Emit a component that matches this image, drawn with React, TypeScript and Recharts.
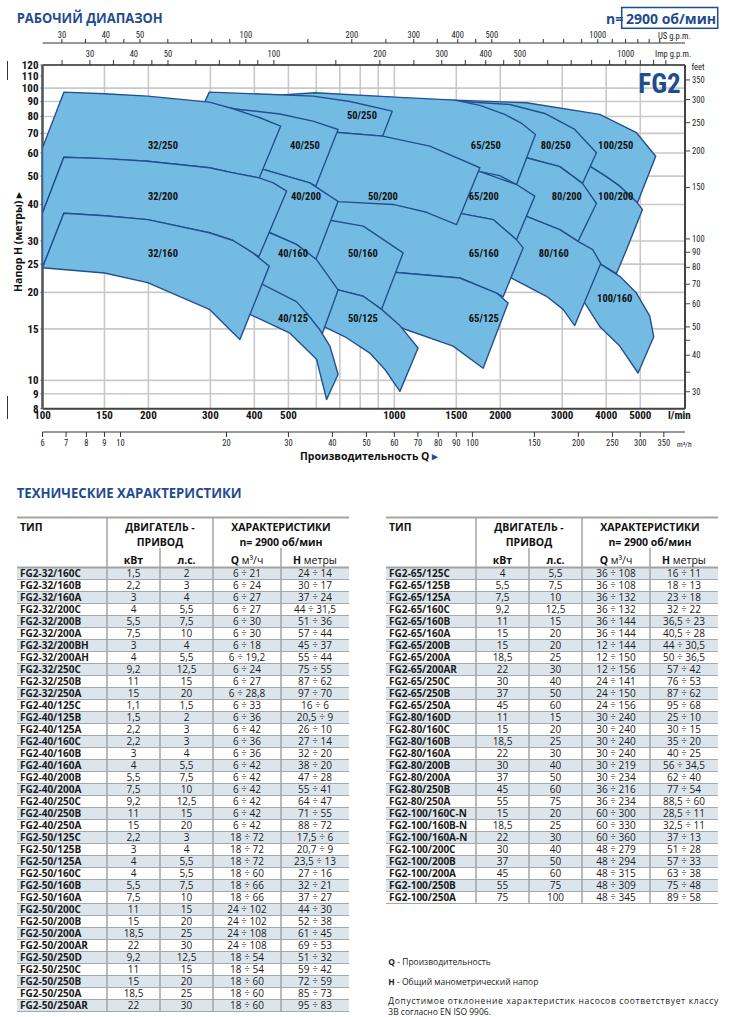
import React from 'react';
import { ScatterChart, Scatter, XAxis, YAxis, CartesianGrid } from 'recharts';

// axes: flow in l/min, head in metres (other units are conversions of these)
const FLOW_DOMAIN: [number, number] = [100, 6700];
const HEAD_DOMAIN: [number, number] = [8, 120];
const axisSpan = [
  { q: FLOW_DOMAIN[0], h: HEAD_DOMAIN[0] },
  { q: FLOW_DOMAIN[1], h: HEAD_DOMAIN[1] },
];

const flowTicks = [100, 150, 200, 300, 400, 500, 600, 700, 800, 900, 1000, 1500, 2000, 3000, 4000, 5000];
const flowLabelled = [100, 150, 200, 300, 400, 500, 1000, 1500, 2000, 3000, 4000, 5000];
const gridFlow = [150, 200, 300, 400, 500, 600, 700, 800, 900, 1000, 1500, 2000, 3000, 4000, 5000];
const headTicks = [8, 9, 10, 15, 20, 25, 30, 40, 50, 60, 70, 80, 90, 100, 110, 120];
const gridHead = [9, 10, 15, 20, 25, 30, 40, 50, 60, 70, 80, 90, 100];
const m3hTicks = [6, 7, 8, 9, 10, 20, 30, 40, 50, 60, 70, 80, 90, 100, 150, 200, 250, 300, 350];
const usTicks = [30, 35, 40, 45, 50, 60, 70, 80, 90, 100, 150, 200, 250, 300, 350, 400, 450, 500, 600, 700, 800, 900, 1000, 1100, 1200, 1300, 1400, 1500];
const impTicks = [25, 30, 35, 40, 45, 50, 60, 70, 80, 90, 100, 150, 200, 250, 300, 350, 400, 450, 500, 600, 700, 800, 900, 1000, 1100, 1200, 1300];
const gpmLabelled = [30, 40, 50, 100, 200, 300, 400, 500, 1000];
const feetTicks = [30, 35, 40, 45, 50, 60, 70, 80, 90, 100, 150, 200, 250, 300, 350];
const feetHidden = [35, 45];

// working ranges [Q l/min, H m], largest family first (smaller ones are drawn over them)
const fg100_250 = [[798, 88.9], [1485, 91.0], [2375, 89.1], [3835, 81.3], [4876, 70.4], [5532, 58.5], [4908, 40.5], [4372, 46.2], [3962, 50.2], [3592, 54.1], [2953, 57.4], [1750, 60.2], [798, 61.7]];
const fg100_200 = [[798, 61.7], [1750, 60.2], [2953, 57.4], [3592, 54.1], [3962, 50.2], [4372, 46.2], [4908, 40.5], [5071, 38.4], [4568, 28.0], [4279, 23.2], [3835, 25.1], [3365, 26.9], [2765, 29.2], [1750, 32.8], [798, 36.9]];
const fg100_160 = [[798, 36.9], [1750, 32.8], [2765, 29.2], [3365, 26.9], [3835, 25.1], [4372, 22.7], [4876, 19.9], [5320, 16.6], [5460, 14.1], [4927, 10.6], [4372, 13.1], [3835, 15.3], [3476, 18.4], [2953, 20.4], [1750, 23.9], [798, 28.0]];
const fg80_250 = [[669, 87.3], [1485, 90.4], [2128, 87.9], [2677, 81.9], [3256, 72.2], [3753, 60.1], [3425, 47.2], [2953, 53.9], [2375, 57.8], [1639, 60.7], [1037, 61.7], [669, 61.7]];
const fg80_200 = [[669, 61.7], [1037, 61.7], [1639, 60.7], [2375, 57.8], [2953, 53.9], [3425, 47.2], [3753, 40.3], [3327, 29.9], [2953, 32.8], [2375, 36.4], [1639, 37.8], [1037, 38.4], [669, 39.0]];
const fg80_160 = [[669, 39.0], [1037, 38.4], [1639, 37.8], [2375, 36.4], [2953, 32.8], [3327, 29.9], [3663, 28.0], [3860, 25.1], [3256, 15.4], [3017, 17.5], [2706, 19.4], [2153, 22.4], [1639, 24.9], [1037, 26.9], [669, 28.0]];
const fg65_250 = [[415, 93.7], [595, 96.4], [1037, 93.0], [1485, 91.0], [1750, 87.3], [2060, 81.3], [2303, 75.7], [2518, 69.4], [2225, 46.8], [1993, 50.2], [1750, 51.8], [1037, 52.7], [539, 54.8], [415, 54.8]];
const fg65_200 = [[415, 54.8], [539, 54.8], [1037, 52.7], [1750, 51.8], [2225, 46.8], [2507, 42.7], [2225, 30.3], [1909, 35.5], [1552, 37.2], [1347, 41.6], [1037, 45.0], [539, 50.6], [415, 50.6]];
const fg65_160 = [[415, 50.6], [539, 50.6], [1037, 45.0], [1347, 41.6], [1552, 37.2], [1909, 35.5], [2225, 30.3], [2323, 28.4], [2037, 19.3], [1952, 19.9], [1535, 22.4], [1015, 23.4], [748, 23.9], [539, 24.3], [415, 24.3]];
const fg65_125 = [[415, 24.3], [539, 24.3], [748, 23.9], [1015, 23.4], [1535, 22.4], [1952, 19.9], [2105, 18.4], [1788, 11.0], [1469, 13.1], [1083, 14.9], [910, 16.4], [700, 18.9], [539, 19.6], [415, 20.4]];
const fg50_250 = [[298, 96.9], [415, 95.5], [588, 93.9], [748, 90.0], [986, 83.4], [926, 68.5], [691, 70.5], [539, 72.2], [289, 75.1], [289, 89.6]];
const fg50_200 = [[539, 72.2], [691, 70.5], [926, 68.5], [1261, 63.3], [1750, 53.4], [1502, 34.1], [1234, 37.6], [992, 40.0], [691, 40.9], [539, 42.3]];
const fg50_160 = [[539, 36.9], [656, 35.3], [816, 33.7], [1059, 27.3], [920, 17.5], [816, 19.4], [692, 20.4], [539, 22.1]];
const fg50_125 = [[539, 22.1], [692, 20.4], [816, 19.4], [920, 17.5], [1037, 15.4], [1168, 12.9], [1037, 9.17], [940, 10.9], [852, 12.4], [724, 14.1], [635, 15.2], [539, 16.8]];
const fg40_250 = [[280, 88.6], [319, 86.6], [364, 84.5], [473, 81.6], [587, 77.1], [692, 72.2], [598, 46.2], [575, 47.4], [424, 52.7], [341, 56.1], [280, 57.9]];
const fg40_200 = [[280, 57.9], [341, 56.1], [424, 52.7], [575, 47.4], [692, 41.0], [598, 25.9], [527, 29.2], [443, 32.0], [364, 34.1], [280, 36.9]];
const fg40_160 = [[280, 36.9], [364, 34.1], [443, 32.0], [527, 29.2], [601, 25.9], [692, 20.4], [618, 14.0], [539, 16.1], [422, 20.4], [364, 21.8], [280, 23.6]];
const fg40_125 = [[280, 23.9], [364, 22.5], [422, 21.3], [527, 18.6], [563, 17.0], [614, 14.9], [656, 13.1], [692, 10.5], [642, 8.6], [601, 11.8], [505, 14.5], [390, 16.8], [341, 18.2], [280, 19.2]];
const fg32_250 = [[115, 96.9], [150, 95.7], [199, 93.9], [298, 89.6], [348, 85.0], [415, 79.2], [475, 74.1], [413, 49.3], [348, 51.3], [298, 53.4], [199, 56.2], [150, 57.4], [115, 58.0], [100, 37.4], [100, 62.5]];
const fg32_200 = [[115, 58.0], [150, 57.4], [199, 56.2], [298, 53.4], [348, 51.3], [413, 49.3], [453, 47.4], [494, 44.4], [412, 26.5], [348, 30.1], [298, 32.0], [199, 35.5], [150, 36.6], [115, 37.3], [100, 24.3], [100, 37.4]];
const fg32_160 = [[115, 37.3], [150, 36.6], [199, 35.5], [298, 32.0], [348, 30.1], [396, 27.3], [441, 24.6], [364, 13.8], [341, 14.9], [298, 17.5], [199, 21.6], [150, 23.3], [100, 24.3]];

const ranges = [
  fg100_250, fg100_200, fg100_160,
  fg80_250, fg80_200, fg80_160,
  fg65_250, fg65_200, fg65_160, fg65_125,
  fg50_250, fg50_200, fg50_160, fg50_125,
  fg40_250, fg40_200, fg40_160, fg40_125,
  fg32_250, fg32_200, fg32_160,
];

const regionLabels: [string, number, number][] = [
  ['32/250', 220, 63.7], ['40/250', 557, 63.7], ['50/250', 809, 80.6], ['65/250', 1820, 63.7], ['80/250', 2875, 63.7], ['100/250', 4259, 63.7],
  ['32/200', 220, 42.6], ['40/200', 561, 42.6], ['50/200', 928, 42.6], ['65/200', 1796, 42.6], ['80/200', 3092, 42.6], ['100/200', 4259, 42.6],
  ['32/160', 220, 27.2], ['40/160', 515, 27.2], ['50/160', 814, 27.2], ['65/160', 1796, 27.2], ['80/160', 2839, 27.2], ['100/160', 4231, 19.05],
  ['40/125', 515, 16.3], ['50/125', 814, 16.3], ['65/125', 1796, 16.3],
];

// technical table rows: type, kW, HP, Q m3/h, H m
const leftRows = [
  ['FG2-32/160C', '1,5', '2', '6 ÷ 21', '24 ÷ 14'],
  ['FG2-32/160B', '2,2', '3', '6 ÷ 24', '30 ÷ 17'],
  ['FG2-32/160A', '3', '4', '6 ÷ 27', '37 ÷ 24'],
  ['FG2-32/200C', '4', '5,5', '6 ÷ 27', '44 ÷ 31,5'],
  ['FG2-32/200B', '5,5', '7,5', '6 ÷ 30', '51 ÷ 36'],
  ['FG2-32/200A', '7,5', '10', '6 ÷ 30', '57 ÷ 44'],
  ['FG2-32/200BH', '3', '4', '6 ÷ 18', '45 ÷ 37'],
  ['FG2-32/200AH', '4', '5,5', '6 ÷ 19,2', '55 ÷ 44'],
  ['FG2-32/250C', '9,2', '12,5', '6 ÷ 24', '75 ÷ 55'],
  ['FG2-32/250B', '11', '15', '6 ÷ 27', '87 ÷ 62'],
  ['FG2-32/250A', '15', '20', '6 ÷ 28,8', '97 ÷ 70'],
  ['FG2-40/125C', '1,1', '1,5', '6 ÷ 33', '16 ÷ 6'],
  ['FG2-40/125B', '1,5', '2', '6 ÷ 36', '20,5 ÷ 9'],
  ['FG2-40/125A', '2,2', '3', '6 ÷ 42', '26 ÷ 10'],
  ['FG2-40/160C', '2,2', '3', '6 ÷ 36', '27 ÷ 14'],
  ['FG2-40/160B', '3', '4', '6 ÷ 36', '32 ÷ 20'],
  ['FG2-40/160A', '4', '5,5', '6 ÷ 42', '38 ÷ 20'],
  ['FG2-40/200B', '5,5', '7,5', '6 ÷ 42', '47 ÷ 28'],
  ['FG2-40/200A', '7,5', '10', '6 ÷ 42', '55 ÷ 41'],
  ['FG2-40/250C', '9,2', '12,5', '6 ÷ 42', '64 ÷ 47'],
  ['FG2-40/250B', '11', '15', '6 ÷ 42', '71 ÷ 55'],
  ['FG2-40/250A', '15', '20', '6 ÷ 42', '88 ÷ 72'],
  ['FG2-50/125C', '2,2', '3', '18 ÷ 72', '17,5 ÷ 6'],
  ['FG2-50/125B', '3', '4', '18 ÷ 72', '20,7 ÷ 9'],
  ['FG2-50/125A', '4', '5,5', '18 ÷ 72', '23,5 ÷ 13'],
  ['FG2-50/160C', '4', '5,5', '18 ÷ 60', '27 ÷ 16'],
  ['FG2-50/160B', '5,5', '7,5', '18 ÷ 66', '32 ÷ 21'],
  ['FG2-50/160A', '7,5', '10', '18 ÷ 66', '37 ÷ 27'],
  ['FG2-50/200C', '11', '15', '24 ÷ 102', '44 ÷ 30'],
  ['FG2-50/200B', '15', '20', '24 ÷ 102', '52 ÷ 38'],
  ['FG2-50/200A', '18,5', '25', '24 ÷ 108', '61 ÷ 45'],
  ['FG2-50/200AR', '22', '30', '24 ÷ 108', '69 ÷ 53'],
  ['FG2-50/250D', '9,2', '12,5', '18 ÷ 54', '51 ÷ 32'],
  ['FG2-50/250C', '11', '15', '18 ÷ 54', '59 ÷ 42'],
  ['FG2-50/250B', '15', '20', '18 ÷ 60', '72 ÷ 59'],
  ['FG2-50/250A', '18,5', '25', '18 ÷ 60', '85 ÷ 73'],
  ['FG2-50/250AR', '22', '30', '18 ÷ 60', '95 ÷ 83'],
];

const rightRows = [
  ['FG2-65/125C', '4', '5,5', '36 ÷ 108', '16 ÷ 11'],
  ['FG2-65/125B', '5,5', '7,5', '36 ÷ 108', '18 ÷ 13'],
  ['FG2-65/125A', '7,5', '10', '36 ÷ 132', '23 ÷ 18'],
  ['FG2-65/160C', '9,2', '12,5', '36 ÷ 132', '32 ÷ 22'],
  ['FG2-65/160B', '11', '15', '36 ÷ 144', '36,5 ÷ 23'],
  ['FG2-65/160A', '15', '20', '36 ÷ 144', '40,5 ÷ 28'],
  ['FG2-65/200B', '15', '20', '12 ÷ 144', '44 ÷ 30,5'],
  ['FG2-65/200A', '18,5', '25', '12 ÷ 150', '50 ÷ 36,5'],
  ['FG2-65/200AR', '22', '30', '12 ÷ 156', '57 ÷ 42'],
  ['FG2-65/250C', '30', '40', '24 ÷ 141', '76 ÷ 53'],
  ['FG2-65/250B', '37', '50', '24 ÷ 150', '87 ÷ 62'],
  ['FG2-65/250A', '45', '60', '24 ÷ 156', '95 ÷ 68'],
  ['FG2-80/160D', '11', '15', '30 ÷ 240', '25 ÷ 10'],
  ['FG2-80/160C', '15', '20', '30 ÷ 240', '30 ÷ 15'],
  ['FG2-80/160B', '18,5', '25', '30 ÷ 240', '35 ÷ 20'],
  ['FG2-80/160A', '22', '30', '30 ÷ 240', '40 ÷ 25'],
  ['FG2-80/200B', '30', '40', '30 ÷ 219', '56 ÷ 34,5'],
  ['FG2-80/200A', '37', '50', '30 ÷ 234', '62 ÷ 40'],
  ['FG2-80/250B', '45', '60', '36 ÷ 216', '77 ÷ 54'],
  ['FG2-80/250A', '55', '75', '36 ÷ 234', '88,5 ÷ 60'],
  ['FG2-100/160C-N', '15', '20', '60 ÷ 300', '28,5 ÷ 11'],
  ['FG2-100/160B-N', '18,5', '25', '60 ÷ 330', '32,5 ÷ 11'],
  ['FG2-100/160A-N', '22', '30', '60 ÷ 360', '37 ÷ 13'],
  ['FG2-100/200C', '30', '40', '48 ÷ 279', '51 ÷ 28'],
  ['FG2-100/200B', '37', '50', '48 ÷ 294', '57 ÷ 33'],
  ['FG2-100/200A', '45', '60', '48 ÷ 315', '63 ÷ 38'],
  ['FG2-100/250B', '55', '75', '48 ÷ 309', '75 ÷ 48'],
  ['FG2-100/250A', '75', '100', '48 ÷ 345', '89 ÷ 58'],
];

const NARROW = "'Liberation Sans Narrow', 'Arial Narrow', 'Roboto Condensed', 'DejaVu Sans Condensed', sans-serif";
const SANS = "'Open Sans', 'Noto Sans', sans-serif";
const BLUE = '#1f4c8f';
const FILL = '#74bbe3';
const EDGE = '#23508f';

const toPoints = (arr: number[][]) => arr.map(([q, h]) => ({ q, h }));

const polygon = (props: any) => {
  const pts = props.points || [];
  if (!pts.length) return <g />;
  const d = pts.map((p: any, i: number) => `${i ? 'L' : 'M'}${p.x},${p.y}`).join('') + 'Z';
  return <path d={d} fill={FILL} stroke={EDGE} strokeWidth={1.4} strokeLinejoin="round" />;
};

const noDot = () => <g />;

const labelShape = (p: any) => (
  <text x={p.cx} y={p.cy} textAnchor="middle" dominantBaseline="central" fontFamily={NARROW} fontWeight={700} fontSize={10.5} fill="#111">
    {p.payload.name}
  </text>
);

const smallTick = { fontSize: 8.5, fill: '#222', fontFamily: NARROW };

function FlowChart() {
  return (
    <ScatterChart width={730} height={470} data={axisSpan} margin={{ top: 23, right: 5, bottom: 16, left: 12.5 }}>
      <XAxis xAxisId="lmin" dataKey="q" type="number" scale="log" domain={FLOW_DOMAIN} allowDataOverflow
        ticks={flowTicks} interval={0} tickFormatter={(v: number) => (flowLabelled.includes(v) ? String(v) : '')}
        tickLine={false} tickSize={0} tickMargin={2} height={23.3}
        axisLine={{ stroke: '#444', strokeWidth: 2 }} tick={{ fontSize: 11, fontWeight: 700, fill: '#111', fontFamily: NARROW }} />
      <XAxis xAxisId="m3h" dataKey="q" type="number" scale="log" domain={[FLOW_DOMAIN[0] * 0.06, FLOW_DOMAIN[1] * 0.06]} allowDataOverflow
        ticks={m3hTicks} interval={0} height={22} tickSize={5} tickMargin={3}
        axisLine={{ stroke: '#333' }} tickLine={{ stroke: '#333' }} tick={smallTick} />
      <XAxis xAxisId="imp" dataKey="q" orientation="top" type="number" scale="log" domain={[FLOW_DOMAIN[0] / 4.546, FLOW_DOMAIN[1] / 4.546]} allowDataOverflow
        ticks={impTicks} interval={0} tickFormatter={(v: number) => (gpmLabelled.includes(v) ? String(v) : '')}
        height={22} tickSize={5} tickMargin={3} axisLine={{ stroke: '#333', strokeWidth: 1.5 }} tickLine={{ stroke: '#333' }} tick={smallTick} />
      <XAxis xAxisId="us" dataKey="q" orientation="top" type="number" scale="log" domain={[FLOW_DOMAIN[0] / 3.785, FLOW_DOMAIN[1] / 3.785]} allowDataOverflow
        ticks={usTicks} interval={0} tickFormatter={(v: number) => (gpmLabelled.includes(v) ? String(v) : '')}
        height={20} tickSize={4} tickMargin={1} axisLine={{ stroke: '#333', strokeWidth: 1.2 }} tickLine={{ stroke: '#333' }} tick={smallTick} />
      <XAxis xAxisId="zgx" dataKey="q" hide height={0} type="number" scale="log" domain={FLOW_DOMAIN} allowDataOverflow ticks={gridFlow} interval={0} />
      <YAxis yAxisId="m" dataKey="h" type="number" scale="log" domain={HEAD_DOMAIN} allowDataOverflow
        ticks={headTicks} interval={0} width={30} tickSize={2} tickMargin={2}
        axisLine={{ stroke: '#555', strokeWidth: 2.5 }} tickLine={{ stroke: '#555' }}
        tick={{ fontSize: 11, fontWeight: 700, fill: '#111', fontFamily: NARROW }} />
      <YAxis yAxisId="ft" dataKey="h" orientation="right" type="number" scale="log" domain={[HEAD_DOMAIN[0] * 3.281, HEAD_DOMAIN[1] * 3.281]} allowDataOverflow
        ticks={feetTicks} interval={0} tickFormatter={(v: number) => (feetHidden.includes(v) ? '' : String(v))}
        width={40} tickSize={5} tickMargin={2} axisLine={{ stroke: '#444', strokeWidth: 2 }} tickLine={{ stroke: '#444' }} tick={smallTick} />
      <YAxis yAxisId="zgy" dataKey="h" hide width={0} type="number" scale="log" domain={HEAD_DOMAIN} allowDataOverflow ticks={gridHead} interval={0} />
      <CartesianGrid xAxisId="zgx" yAxisId="zgy" stroke="#c9c9c9" strokeWidth={1.6} />
      {ranges.map((r, i) => (
        <Scatter key={i} xAxisId="lmin" yAxisId="m" data={toPoints(r)} line={polygon} lineType="joint"
          shape={noDot} isAnimationActive={false} />
      ))}
      <Scatter xAxisId="lmin" yAxisId="m" data={regionLabels.map(([name, q, h]) => ({ name, q, h }))}
        shape={labelShape} isAnimationActive={false} />
    </ScatterChart>
  );
}

function SpecTable({ x, rows }: { x: number; rows: string[][] }) {
  const widths = [90, 53, 53, 68, 68];
  const xs = [x];
  widths.forEach((w) => xs.push(xs[xs.length - 1] + w));
  const top = 517.5;
  const headBottom = 567.5;
  const rowH = 12;
  const bottom = headBottom + rows.length * rowH;
  const hs = { fontFamily: SANS, fontWeight: 700, fontSize: 10.5, fill: '#111' } as const;
  const c = (i: number) => (xs[i] + xs[i + 1]) / 2;
  return (
    <g>
      {rows.map((_, i) =>
        i % 2 === 0 ? <rect key={'b' + i} x={xs[0]} y={headBottom + i * rowH} width={xs[5] - xs[0]} height={rowH} fill="#dde5ec" /> : null
      )}
      {rows.map((_, i) => (
        <line key={'l' + i} x1={xs[0]} x2={xs[5]} y1={headBottom + (i + 1) * rowH} y2={headBottom + (i + 1) * rowH} stroke="#a7a7a7" strokeWidth={1} />
      ))}
      <line x1={xs[0]} x2={xs[5]} y1={top} y2={top} stroke="#a3a3a3" strokeWidth={2} />
      <line x1={xs[0]} x2={xs[5]} y1={headBottom} y2={headBottom} stroke="#a3a3a3" strokeWidth={2} />
      <line x1={xs[1]} x2={xs[1]} y1={top} y2={bottom} stroke="#a3a3a3" strokeWidth={1.5} />
      <line x1={xs[3]} x2={xs[3]} y1={top} y2={bottom} stroke="#a3a3a3" strokeWidth={1.5} />
      <line x1={xs[2]} x2={xs[2]} y1={548} y2={bottom} stroke="#a3a3a3" strokeWidth={1.5} />
      <line x1={xs[4]} x2={xs[4]} y1={548} y2={bottom} stroke="#a3a3a3" strokeWidth={1.5} />
      <text x={xs[0] + 3} y={530.5} {...hs}>ТИП</text>
      <text x={xs[3] - (xs[3] - xs[1]) / 2} y={530.5} textAnchor="middle" {...hs}>ДВИГАТЕЛЬ -</text>
      <text x={xs[3] - (xs[3] - xs[1]) / 2} y={545.5} textAnchor="middle" {...hs}>ПРИВОД</text>
      <text x={(xs[3] + xs[5]) / 2} y={530.5} textAnchor="middle" {...hs}>ХАРАКТЕРИСТИКИ</text>
      <text x={(xs[3] + xs[5]) / 2} y={545.5} textAnchor="middle" {...hs}>n= 2900 об/мин</text>
      <text x={c(1)} y={563.5} textAnchor="middle" {...hs}>кВт</text>
      <text x={c(2)} y={563.5} textAnchor="middle" {...hs}>л.с.</text>
      <text x={c(3)} y={563.5} textAnchor="middle" {...hs}>
        Q<tspan fontWeight={400}> м³/ч</tspan>
      </text>
      <text x={c(4)} y={563.5} textAnchor="middle" {...hs}>
        H<tspan fontWeight={400}> метры</tspan>
      </text>
      {rows.map((r, i) => {
        const y = headBottom + i * rowH + 9.6;
        return (
          <g key={'t' + i} fontFamily={SANS} fontSize={10} fill="#1a1a1a">
            <text x={xs[0] + 3} y={y} fontWeight={700}>{r[0]}</text>
            {r.slice(1).map((v, j) => (
              <text key={j} x={c(j + 1)} y={y} textAnchor="middle">{v}</text>
            ))}
          </g>
        );
      })}
    </g>
  );
}

export default function App() {
  const tiny = { fontFamily: NARROW, fontSize: 8.5, fill: '#222' };
  return (
    <div style={{ position: 'absolute', left: 0, top: 0, width: 730, height: 1017, background: '#fff' }}>
      <div style={{ position: 'absolute', left: 0, top: 0 }}>
        <FlowChart />
      </div>
      <svg width={730} height={1017} style={{ position: 'absolute', left: 0, top: 0, pointerEvents: 'none' }}>
        <text x={16.7} y={23.3} fontFamily={SANS} fontWeight={700} fontSize={14.5} fill={BLUE} textLength={146} lengthAdjust="spacingAndGlyphs">РАБОЧИЙ ДИАПАЗОН</text>
        <text x={606} y={23.5} fontFamily={SANS} fontWeight={700} fontSize={14} fill={BLUE}>n=</text>
        <rect x={621.7} y={7.5} width={96} height={20.8} fill="none" stroke={BLUE} strokeWidth={1.5} />
        <text x={626} y={23.5} fontFamily={SANS} fontWeight={700} fontSize={14} fill={BLUE}>2900 об/мин</text>
        <line x1={7.5} x2={7.5} y1={61} y2={80} stroke="#333" strokeWidth={1} />
        <line x1={7.5} x2={7.5} y1={396} y2={419} stroke="#333" strokeWidth={1} />
        <text x={658} y={38.5} {...tiny}>US g.p.m.</text>
        <text x={655} y={56.8} {...tiny}>Imp g.p.m.</text>
        <text x={691.5} y={70} {...tiny}>feet</text>
        <text x={638.3} y={92.7} fontFamily={NARROW} fontWeight={700} fontSize={27} fill={BLUE}>FG2</text>
        <text x={668} y={419} fontFamily={NARROW} fontWeight={700} fontSize={11} fill="#111">l/min</text>
        <text x={677} y={447} fontFamily={NARROW} fontSize={7.5} fill="#222">m³/h</text>
        <text x={300} y={460} fontFamily={SANS} fontWeight={700} fontSize={10.5} fill="#111">
          Производительность Q <tspan fill={BLUE}>▸</tspan>
        </text>
        <text transform="translate(22,292) rotate(-90)" fontFamily={SANS} fontWeight={700} fontSize={10.5} fill="#111">
          Напор H (метры) <tspan fill="#111">▸</tspan>
        </text>
        <text x={16.7} y={498.3} fontFamily={SANS} fontWeight={700} fontSize={13.5} fill={BLUE} textLength={225} lengthAdjust="spacingAndGlyphs">ТЕХНИЧЕСКИЕ ХАРАКТЕРИСТИКИ</text>
        <SpecTable x={17} rows={leftRows} />
        <SpecTable x={386} rows={rightRows} />
        <g fontFamily={SANS} fontSize={8.5} fill="#222">
          <text x={388.3} y={965}><tspan fontWeight={700}>Q</tspan> - Производительность</text>
          <text x={388.3} y={984.5}><tspan fontWeight={700}>H</tspan> - Общий манометрический напор</text>
          <text x={388.3} y={1003.5} textLength={330} lengthAdjust="spacing">Допустимое отклонение характеристик насосов соответствует классу</text>
          <text x={388.3} y={1014.5}>3B согласно EN ISO 9906.</text>
        </g>
      </svg>
    </div>
  );
}
